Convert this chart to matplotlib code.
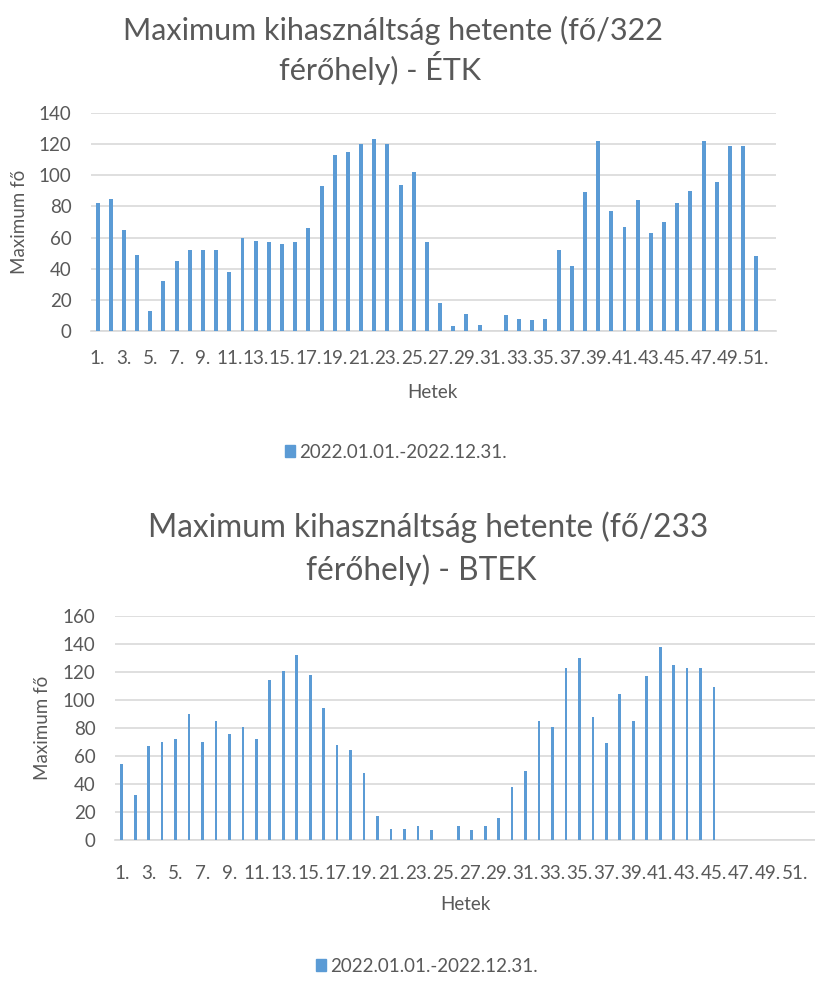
import matplotlib
matplotlib.use("Agg")
import matplotlib.pyplot as plt
from matplotlib.patches import Patch

plt.rcParams['font.family'] = ['Lato', 'DejaVu Sans']

# heti maximum, 52 het
hetek = [str(i) + "." for i in range(1, 53)]
etk = [82, 85, 65, 49, 13, 32, 45, 52, 52, 52, 38, 60, 58, 57, 56, 57, 66, 93,
       113, 115, 120, 123, 120, 94, 102, 57, 18, 3, 11, 4, 0, 10, 8, 7, 8, 52,
       42, 89, 122, 77, 67, 84, 63, 70, 82, 90, 122, 96, 119, 119, 48, 0]
btek = [54, 32, 67, 70, 72, 90, 70, 85, 76, 81, 72, 114, 121, 132, 118, 94, 68,
        64, 48, 17, 8, 8, 10, 7, 0, 10, 7, 10, 16, 38, 49, 85, 81, 123, 130, 88,
        69, 104, 85, 117, 138, 125, 123, 123, 109, 0, 0, 0, 0, 0, 0, 0]
jelmagyarazat = "2022.01.01.-2022.12.31."

szurke = "#595959"
kek = "#5B9BD5"
W, H = 815, 994
fs = 13.5

fig = plt.figure(figsize=(W / 100, H / 100), dpi=100)


def grafikon(rect, adat, ymax, szel, xpad):
    ax = fig.add_axes(rect)
    x = list(range(len(adat)))
    ax.bar(x, adat, width=szel, color=kek, zorder=3)
    ax.set_xlim(-0.5, len(adat) - 0.5)
    ax.set_ylim(0, ymax)
    ax.set_yticks(range(0, ymax + 1, 20))
    ax.set_xticks(x[::2])
    ax.set_xticklabels(hetek[::2])
    ax.grid(axis='y', color="#D9D9D9", linewidth=1.2, zorder=0)
    for s in ['top', 'right', 'left']:
        ax.spines[s].set_visible(False)
    ax.spines['bottom'].set_color("#D9D9D9")
    ax.spines['bottom'].set_linewidth(1.2)
    ax.tick_params(axis='both', length=0, labelsize=fs, colors=szurke)
    ax.tick_params(axis='y', pad=14)
    ax.tick_params(axis='x', pad=xpad)
    return ax


def px(x, y):
    return x / W, 1 - y / H


# felso grafikon - ETK
grafikon([91 / W, 1 - 331 / H, 685 / W, 218 / H], etk, 140, 0.3, 14)
fig.text(*px(393, 30), "Maximum kihasználtság hetente (fő/322", ha='center', va='center',
         fontsize=22, color=szurke)
fig.text(*px(380, 68), "férőhely) - ÉTK", ha='center', va='center', fontsize=22, color=szurke)
fig.text(*px(432, 393), "Hetek", ha='center', va='center', fontsize=fs, color=szurke)
fig.text(*px(20, 222), "Maximum fő", ha='center', va='center', rotation=90,
         fontsize=fs, color=szurke)
fig.legend(handles=[Patch(color=kek, label=jelmagyarazat)], loc='center',
           bbox_to_anchor=px(396, 452), frameon=False, fontsize=fs, labelcolor=szurke,
           handlelength=0.55, handleheight=0.65, handletextpad=0.2)

# also grafikon - BTEK
grafikon([115 / W, 1 - 840 / H, 700 / W, 224 / H], btek, 160, 0.2, 18)
fig.text(*px(428, 527), "Maximum kihasználtság hetente (fő/233", ha='center', va='center',
         fontsize=22.8, color=szurke)
fig.text(*px(421, 570), "férőhely) - BTEK", ha='center', va='center', fontsize=22.8, color=szurke)
fig.text(*px(465, 905), "Hetek", ha='center', va='center', fontsize=fs, color=szurke)
fig.text(*px(42, 728), "Maximum fő", ha='center', va='center', rotation=90,
         fontsize=fs, color=szurke)
fig.legend(handles=[Patch(color=kek, label=jelmagyarazat)], loc='center',
           bbox_to_anchor=px(427, 966), frameon=False, fontsize=fs, labelcolor=szurke,
           handlelength=0.55, handleheight=0.65, handletextpad=0.2)

fig.savefig("out.png", dpi=100)
